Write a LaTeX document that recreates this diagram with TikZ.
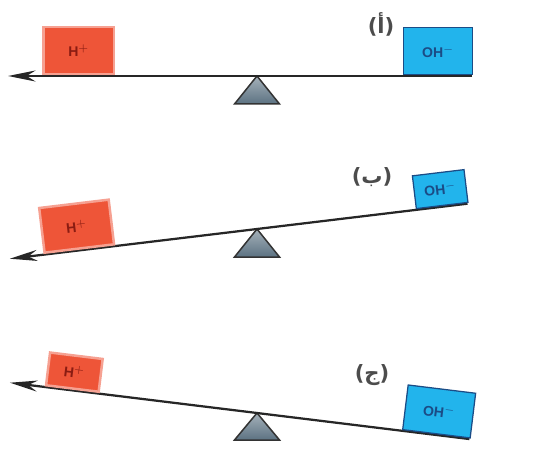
\documentclass[tikz,border=0pt]{standalone}
\usepackage{fontspec}
\setsansfont{Liberation Sans}
\newfontfamily\arabicfont[Script=Arabic]{DejaVu Sans}
\TeXXeTstate=1
\usepackage{tikz}
\usetikzlibrary{arrows.meta}
\definecolor{hred}{HTML}{EE5538}
\definecolor{hredtext}{HTML}{8A1C12}
\definecolor{ohblue}{HTML}{22B4EC}
\definecolor{ohtext}{HTML}{1B4C86}
\definecolor{pivgray}{HTML}{5C7282}
\tikzset{
	beam/.style={line width=0.45mm, color=black!85, -{Stealth[length=5.5mm, width=2.2mm]}},
	hbox/.style={draw=hred!55!white, line width=0.5mm, fill=hred, text=hredtext, font=\sffamily\footnotesize\bfseries, inner sep=0pt, anchor=south west},
	ohbox/.style={draw=ohtext, line width=0.25mm, fill=ohblue, text=ohtext, font=\sffamily\footnotesize\bfseries, inner sep=0pt, anchor=south west},
	pivot/.style={draw=black!80, line width=0.3mm, top color=pivgray!55!white, bottom color=pivgray},
	tag/.style={font=\arabicfont\large\bfseries, text=black!70}
}
\def\pivot(#1)(#2){\draw[pivot] (#1) -- ++(-22.5,-#2) -- ++(45,0) -- cycle;}

\begin{document}
\begin{tikzpicture}[x=0.02cm, y=0.02cm]
	%%%%% START %%%%%
	\useasboundingbox (0,0) rectangle (550,450);
	
	% (a) balanced
	\coordinate (p1) at (257,374);
	\pivot(p1)(28)
	\begin{scope}[shift={(p1)}, transform shape]
		\coordinate (l1) at (-249,0);
		\coordinate (r1) at (215,0);
		\draw[beam] (r1) -- (l1);
		\node[hbox, minimum width=1.42cm, minimum height=0.94cm] (h1) at (-215,0.6) {H$^{+}$};
		\node[ohbox, minimum width=1.38cm, minimum height=0.94cm] (oh1) at (146,0.6) {OH$^{-}$};
	\end{scope}
	\node[tag] (t1) at (381,426) {\beginR(أ)\endR};
	
	% (b) H+ side down
	\coordinate (p2) at (257,221);
	\pivot(p2)(28)
	\begin{scope}[shift={(p2)}, rotate=6.86, transform shape]
		\coordinate (l2) at (-249,0);
		\coordinate (r2) at (212,0);
		\draw[beam] (r2) -- (l2);
		\node[hbox, minimum width=1.40cm, minimum height=0.90cm] (h2) at (-215,0.6) {H$^{+}$};
		\node[ohbox, minimum width=1.04cm, minimum height=0.66cm] (oh2) at (160,0.6) {OH$^{-}$};
	\end{scope}
	\node[tag] (t2) at (372,273) {\beginR(ب)\endR};
	
	% (c) OH- side down
	\coordinate (p3) at (257,37);
	\pivot(p3)(27)
	\begin{scope}[shift={(p3)}, rotate=-6.99, transform shape]
		\coordinate (l3) at (-249,0);
		\coordinate (r3) at (214,0);
		\draw[beam] (r3) -- (l3);
		\node[hbox, minimum width=1.06cm, minimum height=0.66cm] (h3) at (-214,0.6) {H$^{+}$};
		\node[ohbox, minimum width=1.36cm, minimum height=0.90cm] (oh3) at (146,0.6) {OH$^{-}$};
	\end{scope}
	\node[tag] (t3) at (372,75) {\beginR(ج)\endR};
	
	%%%%% END %%%%%
\end{tikzpicture}
\end{document}
